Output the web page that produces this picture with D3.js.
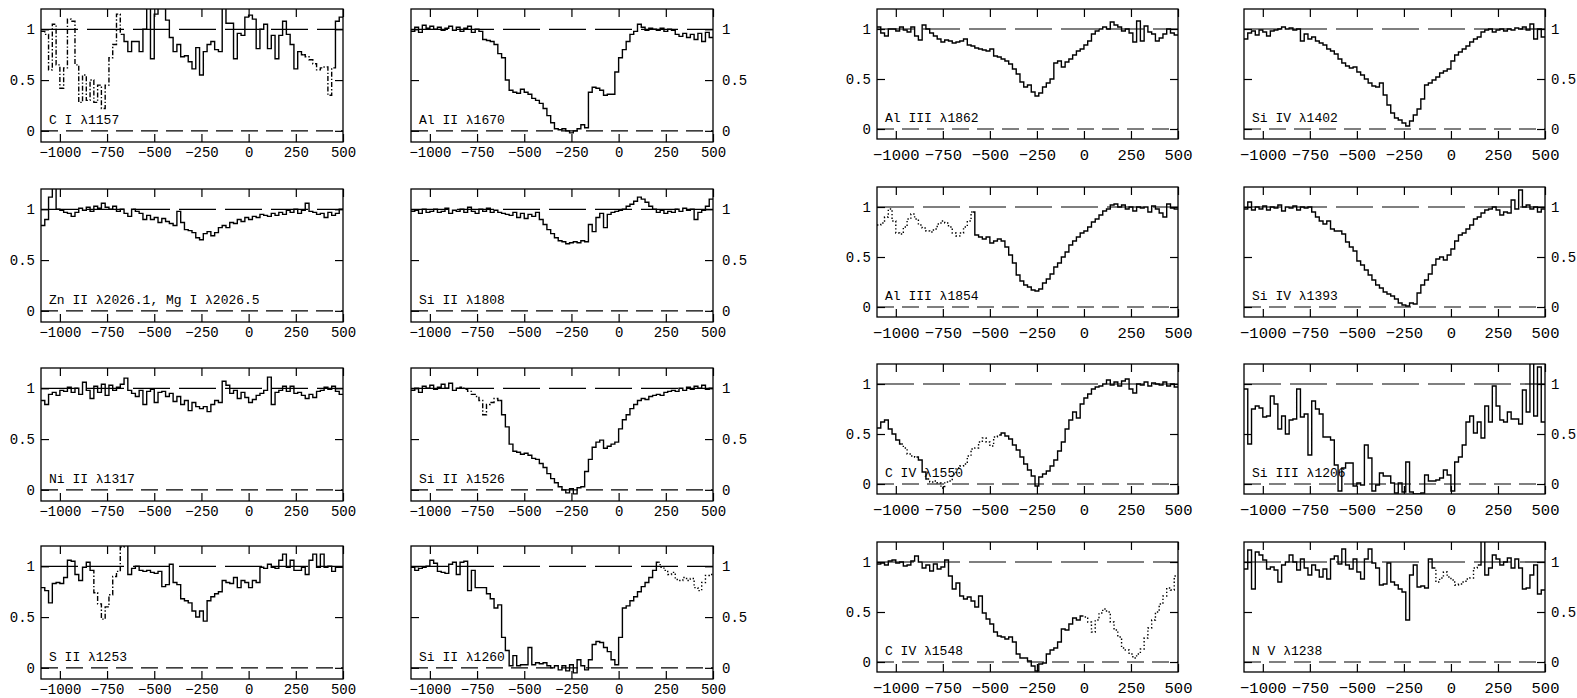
<!DOCTYPE html>
<html>
<head>
<meta charset="utf-8">
<script src="https://cdn.jsdelivr.net/npm/d3@7"></script>
<style>
  body { margin: 0; background: #fff; }
  svg text { font-family: "Liberation Mono", monospace; fill: #000; }
</style>
</head>
<body>
<svg id="chart" width="1577" height="698"></svg>
<script>
// velocity grid (km/s), bin centres every 20 km/s
const vMin = -1100, vMax = 500, vStep = 20;
const binCentres = d3.range(vMin + vStep / 2, vMax, vStep);

const xTicks = [-1000, -750, -500, -250, 0, 250, 500];
const yTicks = [0, 0.5, 1];

// normalised flux
const fluxCI1157 = [
  0.98, 0.95, 0.6, 1.05, 0.65, 0.42, 0.62, 1.1, 1.08, 0.65,
  0.28, 0.55, 0.3, 0.5, 0.28, 0.45, 0.22, 0.45, 0.72, 0.85,
  1.15, 0.95, 0.88, 0.78, 0.88, 0.88, 0.78, 1.0, 1.25, 0.71,
  1.15, 1.25, 1.25, 1.09, 0.92, 0.78, 0.85, 0.73, 0.74, 0.68,
  0.61, 0.82, 0.55, 0.78, 0.85, 0.88, 0.8, 0.78, 1.25, 1.06,
  1.06, 0.71, 0.96, 0.94, 1.12, 1.14, 1.1, 0.81, 1.0, 1.05,
  0.81, 0.94, 0.71, 0.94, 1.08, 0.95, 0.85, 0.61, 0.78, 0.75,
  0.73, 0.7, 0.66, 0.6, 0.62, 0.63, 0.35, 0.62, 1.08, 1.12];
const fluxAlII1670 = [
  0.98, 1.02, 0.97, 1.04, 1.01, 1.03, 1.0, 1.02, 0.99, 1.01,
  1.03, 0.99, 1.02, 0.98, 1.01, 1.03, 0.97, 1.0, 0.98, 0.9,
  0.89, 0.88, 0.85, 0.76, 0.72, 0.5, 0.4, 0.38, 0.37, 0.41,
  0.38, 0.36, 0.32, 0.3, 0.27, 0.22, 0.15, 0.08, 0.02, 0.01,
  0.02, 0.0, -0.02, 0.0, 0.02, 0.06, 0.03, 0.38, 0.43, 0.42,
  0.4, 0.35, 0.36, 0.36, 0.58, 0.72, 0.8, 0.88, 0.95, 0.98,
  1.05, 1.02, 0.99, 1.01, 1.0, 0.99, 1.01, 0.98, 1.0, 0.99,
  0.95, 0.93, 0.96, 0.92, 0.95, 0.9, 0.96, 0.88, 0.97, 0.92];
const fluxAlIII1862 = [
  1.02, 0.96, 0.93, 1.0, 1.0, 0.98, 1.02, 0.99, 0.97, 1.02,
  0.93, 0.89, 1.04, 1.0, 0.96, 0.93, 0.9, 0.87, 0.89, 0.88,
  0.86, 0.87, 0.88, 0.9, 0.84, 0.83, 0.81, 0.8, 0.79, 0.78,
  0.8, 0.73, 0.72, 0.7, 0.68, 0.65, 0.6, 0.55, 0.47, 0.42,
  0.44, 0.37, 0.33, 0.36, 0.42, 0.46, 0.5, 0.66, 0.68, 0.62,
  0.67, 0.7, 0.74, 0.78, 0.8, 0.84, 0.88, 0.95, 0.98, 1.0,
  1.02, 1.0, 1.07, 1.04, 1.02, 0.98, 1.0, 0.96, 0.87, 1.08,
  0.88, 1.03, 0.97, 0.95, 0.88, 0.91, 0.95, 1.0, 0.96, 0.94];
const fluxSiIV1402 = [
  0.9, 0.96, 0.98, 0.94, 0.99, 0.97, 0.93, 0.98, 0.99, 1.0,
  1.02, 1.0, 1.01, 0.99, 1.0, 0.88, 0.95, 0.9, 0.92, 0.88,
  0.86, 0.84, 0.8, 0.78, 0.75, 0.7, 0.66, 0.63, 0.61, 0.62,
  0.57, 0.54, 0.5, 0.46, 0.43, 0.42, 0.46, 0.34, 0.24, 0.16,
  0.11, 0.09, 0.06, 0.03, 0.08, 0.14, 0.2, 0.3, 0.44, 0.46,
  0.49, 0.52, 0.56, 0.58, 0.6, 0.68, 0.74, 0.77, 0.8, 0.83,
  0.87, 0.9, 0.92, 0.97, 0.99, 1.0, 0.97, 0.99, 1.0, 0.98,
  1.0, 0.99, 1.01, 1.0, 1.02, 0.99, 1.05, 0.9, 1.0, 0.92];
const fluxZnII2026 = [
  0.84, 0.9, 1.12, 1.25, 1.0, 0.99, 0.97, 0.96, 0.93, 0.97,
  1.01, 0.99, 1.02, 0.98, 1.03, 1.01, 1.06, 1.02, 1.0, 1.03,
  0.98, 1.0, 0.96, 0.93, 1.0, 0.98, 0.96, 0.9, 0.94, 0.9,
  0.92, 0.87, 0.91, 0.88, 0.86, 0.84, 0.98, 0.87, 0.8, 0.79,
  0.77, 0.72, 0.7, 0.76, 0.78, 0.74, 0.77, 0.82, 0.84, 0.82,
  0.87, 0.86, 0.9, 0.88, 0.92, 0.9, 0.93, 0.92, 0.95, 0.94,
  0.93, 0.96, 0.94, 0.97, 0.95, 0.99, 0.97, 1.0, 0.96, 0.99,
  1.06, 0.98, 0.97, 0.95, 0.96, 0.92, 0.97, 0.94, 0.96, 1.0];
const fluxSiII1808 = [
  0.98, 0.99, 0.96, 1.0, 0.97, 0.98, 1.0, 0.97, 0.98, 1.01,
  0.96, 0.99, 0.98, 1.0, 0.97, 1.02, 0.98, 0.96, 1.0, 0.98,
  1.01, 0.97, 0.99, 0.97, 0.96, 0.95, 0.94, 0.97, 0.92, 0.96,
  0.91, 0.95, 0.93, 0.97, 0.9, 0.85, 0.8, 0.76, 0.72, 0.69,
  0.68, 0.66, 0.67, 0.68, 0.67, 0.69, 0.68, 0.85, 0.78, 0.92,
  0.96, 0.82, 0.95, 0.97, 0.98, 0.99, 1.0, 1.03, 1.05, 1.08,
  1.12, 1.1, 1.07, 1.03, 1.0, 0.97, 0.99, 0.96, 0.98, 0.97,
  1.0, 0.98, 1.01, 0.99, 1.0, 0.9, 0.97, 0.99, 1.03, 1.1];
const fluxAlIII1854 = [
  0.82, 0.84, 0.9, 0.98, 0.86, 0.74, 0.73, 0.8, 0.88, 0.93,
  0.88, 0.82, 0.79, 0.76, 0.75, 0.78, 0.83, 0.86, 0.84, 0.8,
  0.74, 0.71, 0.74, 0.8, 0.86, 0.95, 0.72, 0.7, 0.68, 0.7,
  0.64, 0.66, 0.68, 0.66, 0.6, 0.52, 0.44, 0.32, 0.26, 0.22,
  0.2, 0.17, 0.16, 0.18, 0.24, 0.28, 0.33, 0.4, 0.44, 0.5,
  0.55, 0.62, 0.66, 0.7, 0.74, 0.76, 0.8, 0.85, 0.88, 0.92,
  0.96, 0.98, 1.02, 1.03, 1.0, 1.02, 0.98, 1.0, 0.96, 1.0,
  0.99, 1.0, 0.95, 1.01, 0.98, 0.94, 0.9, 1.03, 0.99, 0.98];
const fluxSiIV1393 = [
  0.98, 1.05, 0.97, 1.0, 0.98, 1.01, 0.97, 1.0, 0.99, 1.02,
  0.96, 1.0, 0.99, 1.01, 0.97, 1.0, 0.99, 1.0, 0.95, 0.9,
  0.86, 0.83, 0.86, 0.78, 0.76, 0.76, 0.73, 0.65, 0.6, 0.56,
  0.46, 0.42, 0.37, 0.32, 0.27, 0.22, 0.19, 0.15, 0.13, 0.11,
  0.08, 0.04, 0.02, 0.01, 0.04, 0.03, 0.14, 0.22, 0.27, 0.33,
  0.42, 0.48, 0.5, 0.47, 0.52, 0.58, 0.66, 0.72, 0.74, 0.78,
  0.82, 0.88, 0.9, 0.94, 0.97, 0.98, 1.0, 0.97, 0.92, 0.95,
  0.94, 1.07, 0.98, 1.17, 1.0, 1.02, 0.98, 1.0, 0.95, 0.98];
const fluxNiII1317 = [
  0.88, 0.84, 0.94, 0.96, 0.93, 0.98, 0.97, 1.01, 0.96, 1.0,
  0.94, 1.06, 0.98, 0.9, 1.02, 0.96, 1.04, 0.93, 1.03, 0.98,
  1.01, 1.04, 1.1, 0.98, 0.95, 0.92, 0.98, 0.84, 0.97, 0.99,
  0.86, 0.96, 0.97, 0.92, 0.95, 0.87, 0.92, 0.84, 0.88, 0.78,
  0.86, 0.82, 0.8, 0.82, 0.77, 0.84, 0.88, 0.86, 1.07, 1.03,
  0.95, 0.98, 0.9, 0.96, 0.91, 0.86, 0.89, 0.93, 0.95, 0.98,
  1.11, 0.84, 0.96, 0.98, 1.02, 0.97, 1.02, 0.95, 0.96, 0.93,
  0.9, 0.94, 0.91, 0.97, 0.98, 1.01, 0.99, 1.02, 0.97, 0.94];
const fluxSiII1526 = [
  0.98, 1.0, 0.96, 1.02, 1.0, 1.03, 0.99, 1.01, 1.04, 1.0,
  1.05, 0.98, 1.0, 1.01, 0.99, 0.97, 0.94, 0.92, 0.88, 0.74,
  0.84, 0.86, 0.9, 0.88, 0.74, 0.62, 0.45, 0.38, 0.37, 0.35,
  0.36, 0.34, 0.31, 0.3, 0.26, 0.22, 0.16, 0.11, 0.07, 0.03,
  0.0, -0.03, 0.01, -0.04, 0.02, 0.03, 0.18, 0.3, 0.42, 0.47,
  0.49, 0.41, 0.43, 0.45, 0.47, 0.6, 0.69, 0.74, 0.8, 0.84,
  0.88, 0.9, 0.89, 0.92, 0.93, 0.94, 0.93, 0.96, 0.97, 0.98,
  0.97, 1.0, 0.98, 1.01, 0.99, 1.02, 1.0, 1.03, 0.99, 1.0];
const fluxCIV1550 = [
  0.56, 0.62, 0.64, 0.55, 0.5, 0.44, 0.4, 0.36, 0.3, 0.28,
  0.27, 0.24, 0.12, 0.05, 0.02, 0.03, 0.01, -0.04, 0.02, 0.03,
  0.1, 0.16, 0.18, 0.2, 0.28, 0.35, 0.36, 0.42, 0.46, 0.42,
  0.38, 0.47, 0.49, 0.51, 0.48, 0.45, 0.39, 0.34, 0.27, 0.2,
  0.14, 0.08, -0.02, 0.07, 0.1, 0.13, 0.18, 0.24, 0.33, 0.42,
  0.55, 0.64, 0.72, 0.66, 0.8, 0.86, 0.9, 0.95, 0.97, 0.98,
  1.0, 1.04, 0.99, 1.02, 0.98, 1.03, 1.05, 0.95, 0.91, 1.0,
  0.99, 1.02, 0.98, 1.01, 1.0, 0.99, 1.02, 0.98, 1.0, 0.97];
const fluxSiIII1206 = [
  0.95, 0.4, 0.75, 0.78, 0.76, 0.67, 0.68, 0.88, 0.8, 0.55,
  0.68, 0.5, 0.64, 0.65, 0.95, 0.67, 0.7, 0.29, 0.83, 0.75,
  0.7, 0.47, 0.47, 0.44, 0.19, -0.07, 0.16, 0.21, 0.21, -0.02,
  0.01, -0.01, 0.39, 0.26, -0.07, -0.01, 0.11, 0.08, 0.08, 0.01,
  -0.09, 0.01, -0.08, 0.22, -0.08, -0.1, -0.1, -0.09, 0.09, 0.03,
  0.03, 0.04, 0.06, 0.14, 0.09, -0.07, 0.22, 0.27, 0.39, 0.62,
  0.68, 0.51, 0.62, 0.46, 0.78, 0.62, 0.98, 0.78, 0.64, 0.62,
  0.72, 0.65, 0.65, 0.6, 0.94, 0.72, 1.25, 0.68, 1.17, 0.62];
const fluxSII1253 = [
  0.79, 0.76, 0.64, 0.83, 0.84, 0.83, 0.89, 1.06, 1.05, 0.92,
  0.86, 0.99, 1.04, 0.96, 0.74, 0.63, 0.48, 0.6, 0.72, 0.9,
  0.95, 1.19, 1.25, 0.92, 0.98, 1.0, 0.96, 0.95, 0.96, 0.94,
  0.93, 0.95, 0.8, 0.82, 1.02, 0.84, 0.82, 0.68, 0.66, 0.64,
  0.56, 0.5, 0.56, 0.46, 0.66, 0.7, 0.73, 0.75, 0.86, 0.84,
  0.83, 0.89, 0.79, 0.86, 0.84, 0.79, 0.86, 0.84, 0.99, 0.98,
  1.02, 0.99, 0.98, 1.06, 1.12, 0.99, 1.06, 0.96, 0.96, 0.99,
  0.92, 1.06, 1.12, 0.99, 1.12, 0.99, 1.0, 0.95, 0.99, 0.99];
const fluxSiII1260 = [
  0.99, 0.96, 0.98, 0.99, 1.0, 1.06, 1.03, 0.95, 0.94, 0.93,
  1.02, 1.04, 0.92, 1.04, 1.05, 0.76, 0.96, 0.79, 0.79, 0.79,
  0.73, 0.68, 0.59, 0.62, 0.3, 0.17, 0.02, 0.12, 0.02, 0.03,
  0.03, 0.2, 0.03, 0.05, 0.04, 0.05, 0.02, 0.0, 0.02, -0.02,
  0.02, -0.03, 0.03, -0.05, 0.08, 0.02, -0.02, 0.08, 0.23, 0.26,
  0.25, 0.2, 0.16, 0.08, 0.03, 0.3, 0.59, 0.61, 0.66, 0.7,
  0.75, 0.8, 0.84, 0.89, 0.96, 1.04, 0.99, 0.96, 0.92, 0.94,
  0.87, 0.86, 0.89, 0.86, 0.88, 0.79, 0.76, 0.84, 0.91, 0.92];
const fluxCIV1548 = [
  0.98, 0.99, 0.97, 1.01, 1.02, 0.99, 1.0, 0.96, 0.97, 1.01,
  1.06, 1.0, 0.94, 0.97, 0.91, 0.98, 0.93, 0.95, 1.02, 0.86,
  0.73, 0.79, 0.66, 0.63, 0.65, 0.61, 0.55, 0.66, 0.49, 0.43,
  0.38, 0.3, 0.26, 0.25, 0.23, 0.25, 0.2, 0.08, 0.04, 0.04,
  0.01, -0.04, -0.09, -0.02, -0.01, 0.08, 0.12, 0.14, 0.2, 0.33,
  0.32, 0.38, 0.44, 0.42, 0.46, 0.45, 0.4, 0.3, 0.42, 0.49,
  0.53, 0.5, 0.4, 0.32, 0.25, 0.14, 0.12, 0.08, 0.04, 0.08,
  0.13, 0.24, 0.34, 0.42, 0.5, 0.58, 0.66, 0.74, 0.72, 0.86];
const fluxNV1238 = [
  0.93, 1.12, 0.73, 1.1, 1.07, 1.02, 0.93, 0.95, 0.92, 0.8,
  0.97, 1.0, 1.07, 1.0, 0.92, 1.03, 0.94, 0.87, 0.97, 0.92,
  0.85, 0.93, 0.83, 1.03, 1.06, 0.98, 1.13, 0.97, 0.93, 1.03,
  0.9, 0.83, 1.03, 1.13, 0.99, 0.94, 0.77, 0.78, 0.99, 0.8,
  0.77, 0.73, 0.7, 0.42, 0.87, 0.97, 0.75, 0.76, 0.74, 1.03,
  0.94, 0.8, 0.84, 0.9, 0.85, 0.82, 0.77, 0.78, 0.8, 0.83,
  0.84, 0.94, 0.97, 1.25, 0.87, 0.94, 1.07, 1.03, 0.97, 1.0,
  1.04, 0.94, 1.03, 0.94, 0.73, 0.74, 0.87, 0.97, 0.68, 0.72];

// velocity ranges of each trace: solid = clean, dotted / dashdot = blended
const partsCI1157 = [["dashdot", -1090, -670], ["solid", -670, 290], ["dashdot", 290, 450], ["solid", 450, 490]];
const partsAlIII1854 = [["dotted", -1090, -590], ["solid", -590, 490]];
const partsSiII1526 = [["solid", -1090, -850], ["dashdot", -850, -630], ["solid", -630, 490]];
const partsCIV1550 = [["solid", -1090, -970], ["dotted", -970, -890], ["solid", -890, -830], ["dotted", -830, -450], ["solid", -450, 490]];
const partsSII1253 = [["solid", -1090, -830], ["dashdot", -830, -650], ["solid", -650, 490]];
const partsSiII1260 = [["solid", -1090, 210], ["dotted", 210, 490]];
const partsCIV1548 = [["solid", -1090, -10], ["dotted", -10, 490]];
const partsNV1238 = [["solid", -1090, -90], ["dotted", -90, 150], ["solid", 150, 490]];
const partsClean = [["solid", -1090, 490]];

const panels = [
  { label: "C I λ1157", flux: fluxCI1157, col: 0, row: 0, parts: partsCI1157 },
  { label: "Zn II λ2026.1, Mg I λ2026.5", flux: fluxZnII2026, col: 0, row: 1, parts: partsClean },
  { label: "Ni II λ1317", flux: fluxNiII1317, col: 0, row: 2, parts: partsClean },
  { label: "S II λ1253", flux: fluxSII1253, col: 0, row: 3, parts: partsSII1253 },
  { label: "Al II λ1670", flux: fluxAlII1670, col: 1, row: 0, parts: partsClean },
  { label: "Si II λ1808", flux: fluxSiII1808, col: 1, row: 1, parts: partsClean },
  { label: "Si II λ1526", flux: fluxSiII1526, col: 1, row: 2, parts: partsSiII1526 },
  { label: "Si II λ1260", flux: fluxSiII1260, col: 1, row: 3, parts: partsSiII1260 },
  { label: "Al III λ1862", flux: fluxAlIII1862, col: 2, row: 0, parts: partsClean },
  { label: "Al III λ1854", flux: fluxAlIII1854, col: 2, row: 1, parts: partsAlIII1854 },
  { label: "C IV λ1550", flux: fluxCIV1550, col: 2, row: 2, parts: partsCIV1550 },
  { label: "C IV λ1548", flux: fluxCIV1548, col: 2, row: 3, parts: partsCIV1548 },
  { label: "Si IV λ1402", flux: fluxSiIV1402, col: 3, row: 0, parts: partsClean },
  { label: "Si IV λ1393", flux: fluxSiIV1393, col: 3, row: 1, parts: partsClean },
  { label: "Si III λ1206", flux: fluxSiIII1206, col: 3, row: 2, parts: partsClean },
  { label: "N V λ1238", flux: fluxNV1238, col: 3, row: 3, parts: partsNV1238 }
];

// two figures side by side, two columns of panels each
const figures = [
  { left: [41, 411], top: [9, 189, 368, 546], w: 302, h: 133, yDom: [-0.11, 1.2],
    font: 14, yFont: 14, pad: 5, rightPad: 9 },
  { left: [877, 1244], top: [9, 187, 364, 542], w: 301, h: 130, yDom: [-0.1, 1.2],
    font: 15.5, yFont: 14, pad: 10, rightPad: 6 }
];

const dashes = { solid: null, dotted: "1.4,2.2", dashdot: "5,2,1.4,2" };
const fmt = d => d < 0 ? "\u2212" + (-d) : String(d);

const svg = d3.select("#chart");

panels.forEach((p, k) => {
  const fig = figures[Math.floor(p.col / 2)];
  const side = p.col % 2;          // 0: labels left, 1: labels right
  const x0 = fig.left[side], y0 = fig.top[p.row];

  const x = d3.scaleLinear().domain([vMin, vMax]).range([x0, x0 + fig.w]);
  const y = d3.scaleLinear().domain(fig.yDom).range([y0 + fig.h, y0]);

  const g = svg.append("g");

  svg.append("clipPath").attr("id", "clip" + k)
    .append("rect")
      .attr("x", x0).attr("y", y0)
      .attr("width", fig.w).attr("height", fig.h);

  // continuum and zero levels
  g.append("line")
    .attr("x1", x(vMin)).attr("x2", x(vMax))
    .attr("y1", y(1)).attr("y2", y(1))
    .attr("stroke", "#000").attr("stroke-width", 1.2)
    .attr("stroke-dasharray", "37,9");
  g.append("line")
    .attr("x1", x(vMin)).attr("x2", x(vMax))
    .attr("y1", y(0)).attr("y2", y(0))
    .attr("stroke", "#000").attr("stroke-width", 1.2)
    .attr("stroke-dasharray", "17,8");

  // spectrum as histogram steps
  const pts = binCentres.map((v, i) => ({ v: v, f: p.flux[i] }));
  const line = d3.line()
    .x(d => x(d.v))
    .y(d => y(d.f))
    .curve(d3.curveStep);

  const spec = g.append("g").attr("clip-path", "url(#clip" + k + ")");
  p.parts.forEach(([style, a, b]) => {
    let seg = pts.filter(d => d.v >= a && d.v <= b);
    if (a === binCentres[0]) seg = [{ v: vMin, f: seg[0].f }].concat(seg);
    if (b === binCentres[binCentres.length - 1]) seg = seg.concat([{ v: vMax, f: seg[seg.length - 1].f }]);
    spec.append("path")
      .datum(seg)
      .attr("fill", "none")
      .attr("stroke", "#000")
      .attr("stroke-width", 1.4)
      .attr("stroke-dasharray", dashes[style])
      .attr("d", line);
  });

  // axes, ticks pointing inwards
  const bottom = g.append("g")
    .attr("transform", "translate(0," + (y0 + fig.h) + ")")
    .call(d3.axisBottom(x).tickValues(xTicks).tickSize(-8).tickSizeOuter(0)
      .tickPadding(fig.pad).tickFormat(fmt));
  const top = g.append("g")
    .attr("transform", "translate(0," + y0 + ")")
    .call(d3.axisTop(x).tickValues(xTicks).tickSize(-8).tickSizeOuter(0).tickFormat(""));
  const leftAx = g.append("g")
    .attr("transform", "translate(" + x0 + ",0)")
    .call(d3.axisLeft(y).tickValues(yTicks).tickSize(-8).tickSizeOuter(0)
      .tickPadding(6).tickFormat(side === 0 ? fmt : ""));
  const rightAx = g.append("g")
    .attr("transform", "translate(" + (x0 + fig.w) + ",0)")
    .call(d3.axisRight(y).tickValues(yTicks).tickSize(-8).tickSizeOuter(0)
      .tickPadding(fig.rightPad).tickFormat(side === 1 ? fmt : ""));

  [bottom, top, leftAx, rightAx].forEach(ax => {
    ax.attr("font-family", null).attr("font-size", fig.font);
    ax.select(".domain").remove();
    ax.selectAll(".tick line").attr("stroke", "#000").attr("stroke-width", 1.2);
  });
  leftAx.attr("font-size", fig.yFont);
  rightAx.attr("font-size", fig.yFont);

  // frame
  g.append("rect")
    .attr("x", x0).attr("y", y0)
    .attr("width", fig.w).attr("height", fig.h)
    .attr("fill", "none")
    .attr("stroke", "#000")
    .attr("stroke-width", 1.3);

  g.append("text")
    .attr("x", x0 + 8)
    .attr("y", y(0) - 7)
    .attr("font-size", 13)
    .text(p.label);
});
</script>
</body>
</html>
